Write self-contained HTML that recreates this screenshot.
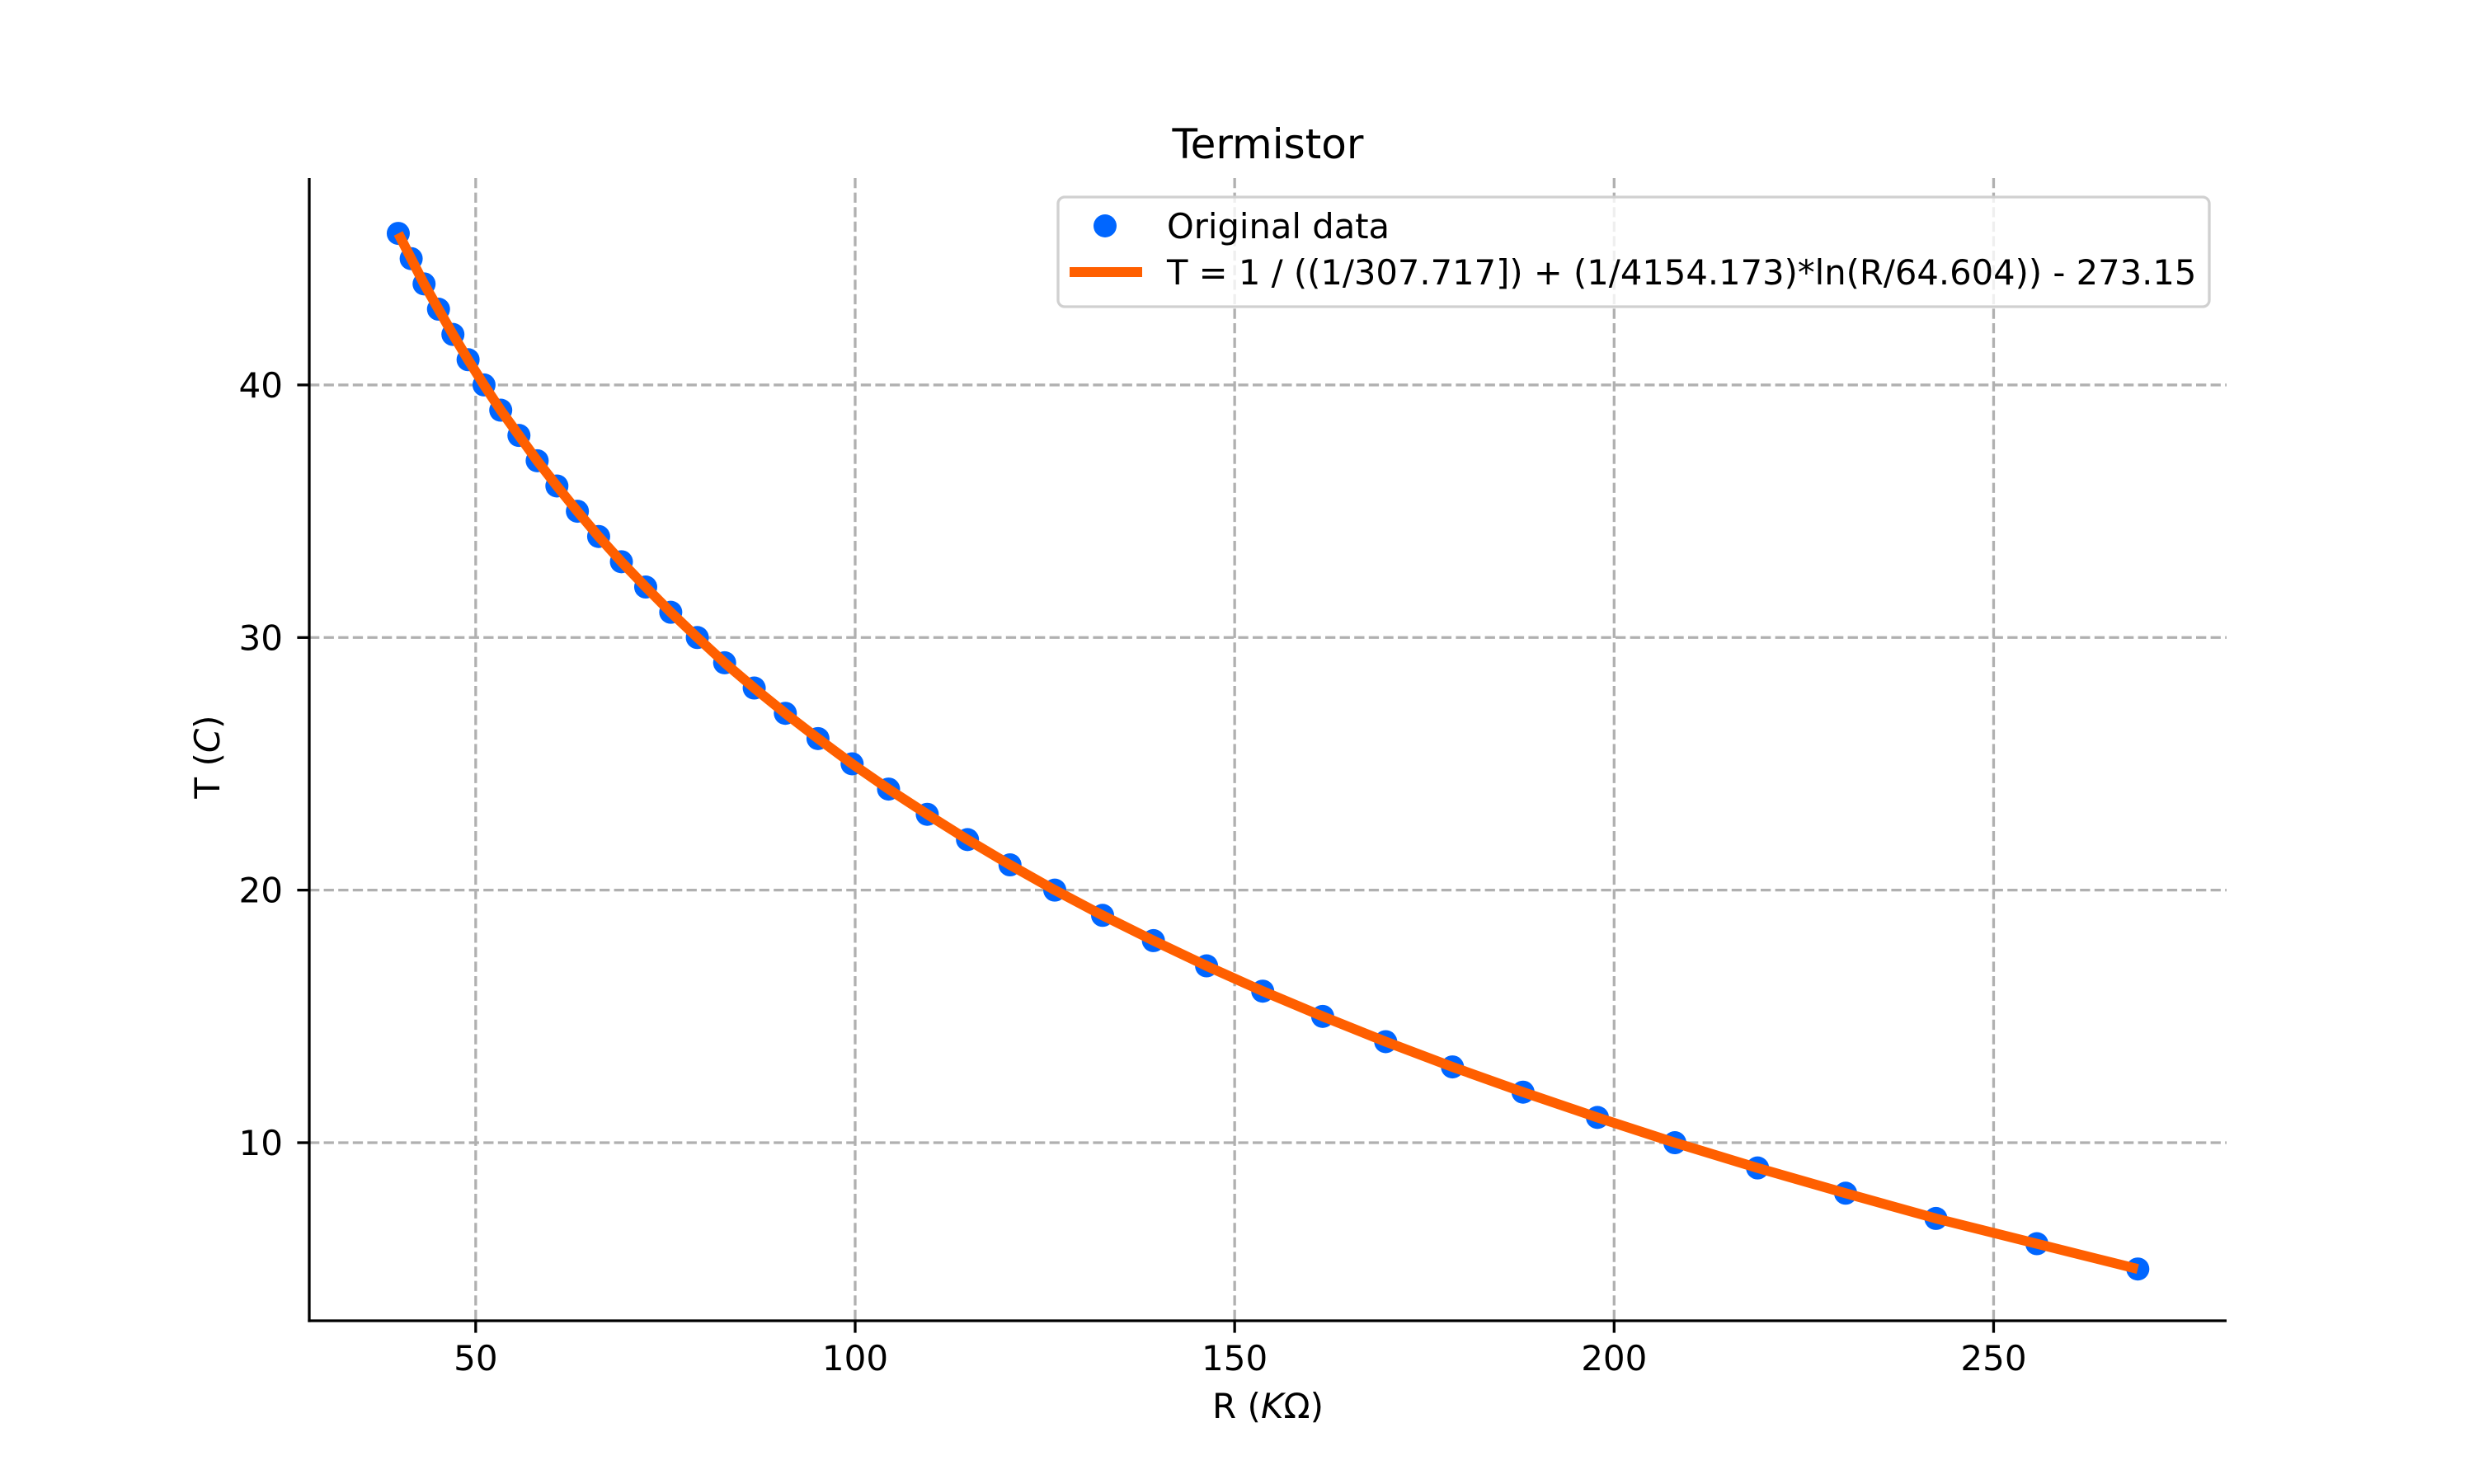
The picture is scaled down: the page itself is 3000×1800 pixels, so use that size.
<!DOCTYPE html>
<html><head><meta charset="utf-8"><style>
html,body{margin:0;padding:0;background:#fff}
svg{display:block;font-family:"DejaVu Sans","Liberation Sans",sans-serif}
</style></head><body>
<svg id="chart" width="3000" height="1800" viewBox="0 0 3000 1800" xmlns="http://www.w3.org/2000/svg">
<rect width="3000" height="1800" fill="#fff"/>
<g id="grid"></g>
<g id="series"></g>
<g id="axes"></g>
<text x="1537.5" y="192" font-size="50" text-anchor="middle">Termistor</text>
<text x="1537.5" y="1720" font-size="42" text-anchor="middle">R (<tspan font-style="italic">K</tspan>Ω)</text>
<text x="0" y="0" font-size="42" text-anchor="middle" transform="translate(266,918) rotate(-90)">T (<tspan font-style="italic">C</tspan>)</text>
<g id="legend">
<rect x="1283" y="239" width="1396" height="133" rx="8" fill="#fff" fill-opacity="0.8" stroke="#d0d0d0" stroke-width="3.3"/>
<circle cx="1340" cy="274" r="14" fill="#0066ff"/>
<text x="1415" y="289" font-size="41.67">Original data</text>
<line x1="1297" y1="330" x2="1385" y2="330" stroke="#ff5f00" stroke-width="12"/>
<text x="1415" y="345" font-size="41.67">T = 1 / ((1/307.717]) + (1/4154.173)*ln(R/64.604)) - 273.15</text>
</g>
</svg>
<script>
const resistance = [39.8,41.5,43.2,45.1,47.0,49.0,51.1,53.3,55.7,58.1,60.7,63.4,66.2,69.2,72.4,75.7,79.2,82.8,86.7,90.8,95.1,99.6,104.4,109.5,114.8,120.4,126.3,132.6,139.3,146.3,153.7,161.6,169.9,178.7,188.0,197.8,208.0,218.9,230.5,242.4,255.7,269.0];
const temperature = [46,45,44,43,42,41,40,39,38,37,36,35,34,33,32,31,30,29,28,27,26,25,24,23,22,21,20,19,18,17,16,15,14,13,12,11,10,9,8,7,6,5];
const xTicks = [50,100,150,200,250];
const yTicks = [10,20,30,40];
const xDomain = [28.07, 280.7];
const yDomain = [2.95, 48.19];

const L=375,R=2700,T=216,B=1602;
const NS='http://www.w3.org/2000/svg';
function sx(v){return L+(v-xDomain[0])/(xDomain[1]-xDomain[0])*(R-L);}
function sy(v){return B-(v-yDomain[0])/(yDomain[1]-yDomain[0])*(B-T);}
function mk(tag,attrs,parent){const e=document.createElementNS(NS,tag);for(const k in attrs)e.setAttribute(k,attrs[k]);parent.appendChild(e);return e;}
const grid=document.getElementById('grid'),axes=document.getElementById('axes'),series=document.getElementById('series');

xTicks.forEach(v=>{
  const x=sx(v);
  const g=mk('line',{x1:x,y1:T,x2:x,y2:B,stroke:'#b0b0b0','stroke-width':3.3,'stroke-dasharray':'12.3,5.3'},grid);
  
  
  const t=mk('line',{x1:x,y1:B,x2:x,y2:B+14.6,stroke:'#000','stroke-width':3.3},axes);
  
  
  const lb=mk('text',{x:x,y:1662,'font-size':42,'text-anchor':'middle'},axes);
  lb.textContent=v;
  
  
});
yTicks.forEach(v=>{
  const y=sy(v);
  const g=mk('line',{x1:L,y1:y,x2:R,y2:y,stroke:'#b0b0b0','stroke-width':3.3,'stroke-dasharray':'12.3,5.3'},grid);
  
  
  const t=mk('line',{x1:L-14.6,y1:y,x2:L,y2:y,stroke:'#000','stroke-width':3.3},axes);
  
  
  const lb=mk('text',{x:343,y:y+15,'font-size':42,'text-anchor':'end'},axes);
  lb.textContent=v;
  
  
});
const ls=mk('line',{x1:L,y1:T,x2:L,y2:B+1.6,stroke:'#000','stroke-width':3.3},axes);


const bs=mk('line',{x1:L-1.6,y1:B,x2:R,y2:B,stroke:'#000','stroke-width':3.3},axes);



resistance.forEach((r,i)=>{
  const c=mk('circle',{cx:sx(r),cy:sy(temperature[i]),r:14,fill:'#0066ff'},series);
  
  
});
const pts=resistance.map((r,i)=>sx(r).toFixed(1)+','+sy(temperature[i]).toFixed(1)).join(' ');
const pl=mk('polyline',{points:pts,fill:'none',stroke:'#ff5f00','stroke-width':12,'stroke-linejoin':'round'},series);


</script>
</body></html>
